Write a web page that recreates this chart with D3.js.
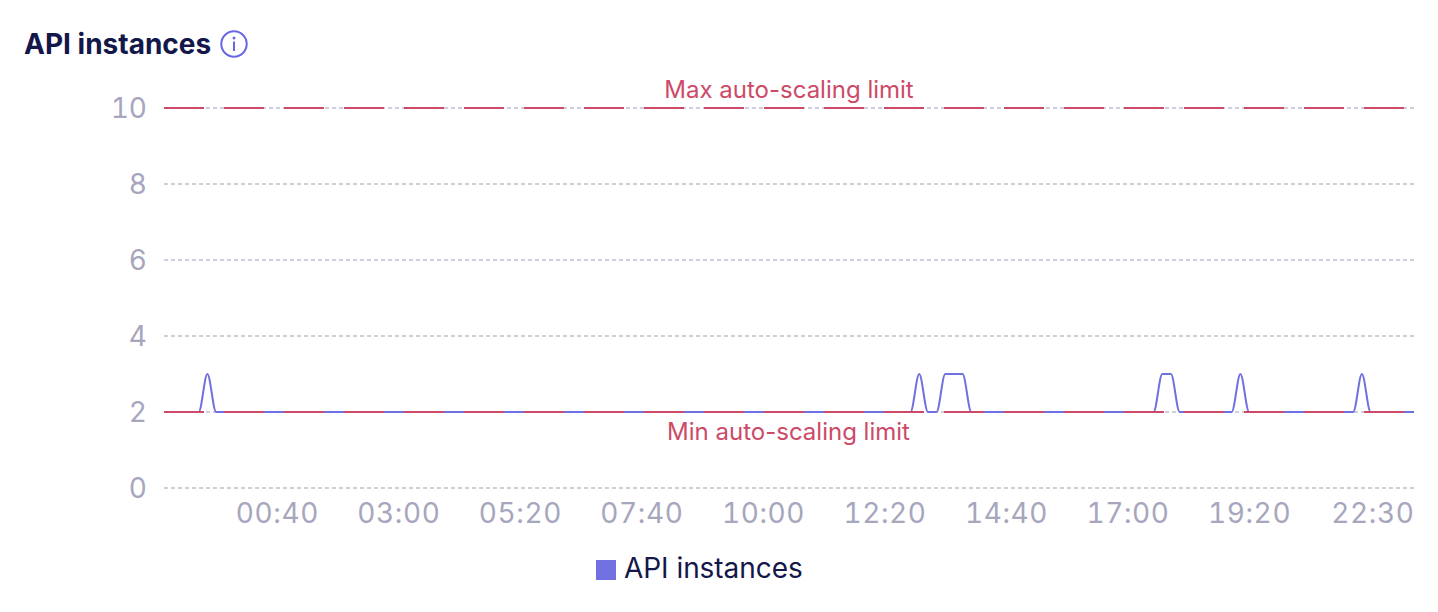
<!DOCTYPE html>
<html><head><meta charset="utf-8">
<script src="https://cdnjs.cloudflare.com/ajax/libs/d3/7.8.5/d3.min.js"></script>
<style>
html,body{margin:0;padding:0;background:#fff;width:1438px;height:612px;overflow:hidden}
svg{display:block}
text{font-family:Inter,"Noto Sans",sans-serif}
.tick text{font-variant-numeric:tabular-nums;font-feature-settings:"tnum" 1}
</style></head><body>
<svg id="chart" width="1438" height="612"></svg>
<script>
const chartTitle = "API instances";
const seriesName = "API instances";
const startTime = "2023-01-01T22:30:00Z";
const stepMinutes = 10;
const instances = [
 2,2,2,2,2,3,2,2,2,2,2,2,2,2,2,2,2,2,2,2,2,2,2,2,
 2,2,2,2,2,2,2,2,2,2,2,2,2,2,2,2,2,2,2,2,2,2,2,2,
 2,2,2,2,2,2,2,2,2,2,2,2,2,2,2,2,2,2,2,2,2,2,2,2,
 2,2,2,2,2,2,2,2,2,2,2,2,2,2,2,3,2,2,3,3,3,2,2,2,
 2,2,2,2,2,2,2,2,2,2,2,2,2,2,2,2,2,2,2,3,3,2,2,2,
 2,2,2,2,3,2,2,2,2,2,2,2,2,2,2,2,2,2,3,2,2,2,2,2,2
];
const yTicks = [0,2,4,6,8,10];
const xTickTimes = ["2023-01-02T00:40:00Z","2023-01-02T03:00:00Z","2023-01-02T05:20:00Z","2023-01-02T07:40:00Z","2023-01-02T10:00:00Z","2023-01-02T12:20:00Z","2023-01-02T14:40:00Z","2023-01-02T17:00:00Z","2023-01-02T19:20:00Z","2023-01-02T22:30:00Z"];
const limits = [{label:"Max auto-scaling limit",value:10,above:true},{label:"Min auto-scaling limit",value:2,above:false}];

const colors = {title:"#14174a",axis:"#a6a6bd",grid:"#cfcfdc",line:"#7070e0",limit:"#cc4a68",icon:"#6666e6"};
const svg = d3.select("#chart");
const M = {l:164,r:1414,t:108,b:488};
const t0 = new Date(startTime);
const times = instances.map((_,i)=>new Date(+t0 + i*stepMinutes*60000));
const x = d3.scaleUtc().domain([t0,times[times.length-1]]).range([M.l,M.r]);
const y = d3.scaleLinear().domain([0,10]).range([M.b,M.t]);

// Y axis + grid
const yAxis = svg.append("g").attr("transform",`translate(${M.l},0)`)
  .call(d3.axisLeft(y).tickValues(yTicks).tickSize(-(M.r-M.l)).tickPadding(17).tickFormat(d3.format("d")));
yAxis.select(".domain").remove();
yAxis.selectAll(".tick").attr("transform",d=>`translate(0,${y(d)})`);
yAxis.selectAll(".tick line").attr("stroke",colors.grid).attr("stroke-width",2).attr("stroke-dasharray","4 3");
yAxis.selectAll(".tick text").attr("fill",colors.axis).attr("font-size",28).attr("dy","0.36em");

// X axis
const xAxis = svg.append("g").attr("transform",`translate(0,${M.b})`)
  .call(d3.axisBottom(x).tickValues(xTickTimes.map(d=>new Date(d))).tickSize(0).tickPadding(15).tickFormat(d3.utcFormat("%H:%M")));
xAxis.select(".domain").remove();
xAxis.selectAll(".tick text").attr("fill",colors.axis).attr("font-size",28).attr("letter-spacing","0.6px");
xAxis.selectAll(".tick").filter((d,i)=>i===xTickTimes.length-1).select("text").attr("text-anchor","end");

// Series
const line = d3.line().x((d,i)=>x(times[i])).y(d=>y(d)).curve(d3.curveMonotoneX);
svg.append("path").datum(instances).attr("d",line).attr("fill","none").attr("stroke",colors.line).attr("stroke-width",2);

// Limits
limits.forEach(l=>{
  svg.append("line").attr("x1",M.l).attr("x2",M.r).attr("y1",y(l.value)).attr("y2",y(l.value))
    .attr("stroke",colors.limit).attr("stroke-width",2).attr("stroke-dasharray","40 20");
  svg.append("text").attr("x",(M.l+M.r)/2+ (l.above?0:-0.5)).attr("y",y(l.value)+(l.above?-10:28))
    .attr("text-anchor","middle").attr("fill",colors.limit).attr("font-size",24).text(l.label);
});

// Title + info icon
svg.append("text").attr("x",24).attr("y",54).attr("fill",colors.title).attr("font-size",28).attr("font-weight",700).text(chartTitle);
const ic = svg.append("g").attr("transform","translate(234,44)");
ic.append("circle").attr("r",12.7).attr("fill","none").attr("stroke",colors.icon).attr("stroke-width",2);
ic.append("circle").attr("cy",-6).attr("r",1.5).attr("fill",colors.icon);
ic.append("line").attr("y1",-2.5).attr("y2",7).attr("stroke",colors.icon).attr("stroke-width",2);

// Legend
svg.append("rect").attr("x",596).attr("y",560).attr("width",20).attr("height",20).attr("fill",colors.line);
svg.append("text").attr("x",624).attr("y",578).attr("fill",colors.title).attr("font-size",28).attr("letter-spacing","-0.05px").text(seriesName);
</script>
</body></html>
